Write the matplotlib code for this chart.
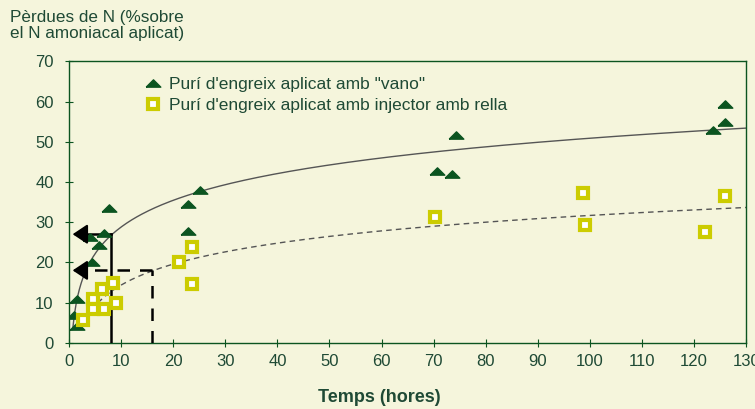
import numpy as np
import matplotlib
matplotlib.use("Agg")
import matplotlib.pyplot as plt

# temps (hores) i pèrdues de N (%)
vano_x = [1.0, 1.5, 1.5, 4.0, 4.4, 5.8, 6.8, 7.7, 22.9, 22.9, 25.1, 70.7, 73.6, 74.3, 123.7, 125.9, 125.9]
vano_y = [7.0, 10.8, 4.2, 26.3, 20.2, 24.3, 27.3, 33.5, 34.4, 27.7, 38.1, 42.7, 41.9, 51.6, 52.8, 55.0, 59.5]

rella_x = [2.7, 4.7, 4.7, 6.3, 6.7, 8.5, 9.0, 21.2, 23.7, 23.7, 70.2, 98.7, 99.0, 122.1, 125.9]
rella_y = [5.7, 10.8, 8.3, 13.3, 8.3, 14.8, 9.8, 20.0, 23.7, 14.6, 31.4, 37.3, 29.2, 27.5, 36.4]

# temps per perdre la meitat (hores) i pèrdues en aquell moment
half_x = [8.0, 16.0]
half_y = [27.0, 18.0]

xticks = list(range(0, 131, 10))
yticks = list(range(0, 71, 10))

bg = "#f5f5dc"
green = "#0b5420"
txt = "#1f4a35"
yellow = "#cccc00"

plt.rcParams['font.family'] = ['Liberation Sans', 'DejaVu Sans']

fig = plt.figure(figsize=(7.55, 4.09), dpi=100, facecolor=bg)
ax = fig.add_axes([0.0914, 0.162, 0.897, 0.688], facecolor=bg)

# logarithmic trend lines fitted to the data
b1, a1 = np.polyfit(np.log(vano_x), vano_y, 1)
b2, a2 = np.polyfit(np.log(rella_x), rella_y, 1)
xs1 = np.linspace(0.7, 130, 400)
xs2 = np.linspace(2.5, 130, 400)
ax.plot(xs1, a1 + b1 * np.log(xs1), color="#555555", lw=1.0, zorder=2)
ax.plot(xs2, a2 + b2 * np.log(xs2), color="#555555", lw=1.0, ls=(0, (4, 3)), zorder=2)

tri = [(-1, -0.5), (1, -0.5), (0, 0.5), (-1, -0.5)]
ax.plot(vano_x, vano_y, ls="none", marker=tri, ms=10.5, color=green, mec=green,
        label='Purí d\'engreix aplicat amb "vano"', zorder=4)
ax.plot(rella_x, rella_y, ls="none", marker="s", ms=7, mfc="white", mec=yellow, mew=3,
        label="Purí d'engreix aplicat amb injector amb rella", zorder=4)

# fletxes
styles = ["-", (0, (5, 4))]
for hx, hy, st in zip(half_x, half_y, styles):
    ax.plot([hx, hx], [0, hy], color="black", lw=1.8, ls=st, zorder=3)
    ax.plot([hx, 3.0], [hy, hy], color="black", lw=1.8, ls=st, zorder=3)
    ax.annotate("", xy=(0.7, hy), xytext=(3.2, hy),
                arrowprops=dict(arrowstyle="-|>,head_length=0.9,head_width=0.6",
                                color="black", lw=1.5, shrinkA=0, shrinkB=0), zorder=5)

ax.set_xlim(0, 130)
ax.set_ylim(0, 70)
ax.set_xticks(xticks)
ax.set_yticks(yticks)
for s in ax.spines.values():
    s.set_color(green)
    s.set_linewidth(1.0)
ax.tick_params(direction="inout", length=6, color=green, labelcolor=txt, labelsize=12)
ax.tick_params(axis="x", pad=5)
ax.tick_params(axis="y", pad=8)

ax.set_xlabel("Temps (hores)", fontsize=13, fontweight="bold", color=txt)
ax.xaxis.set_label_coords(0.4585, -0.165)
fig.text(0.013, 0.975, "Pèrdues de N (%sobre\nel N amoniacal aplicat)", fontsize=12.3,
         color=txt, va="top", ha="left", linespacing=1.05)

leg = ax.legend(loc="upper left", bbox_to_anchor=(0.088, 1.0), frameon=False, fontsize=12.5,
                handletextpad=0.4, labelspacing=0.35, labelcolor=txt, handlelength=1.0)

fig.savefig("out.png", dpi=100, facecolor=bg)
